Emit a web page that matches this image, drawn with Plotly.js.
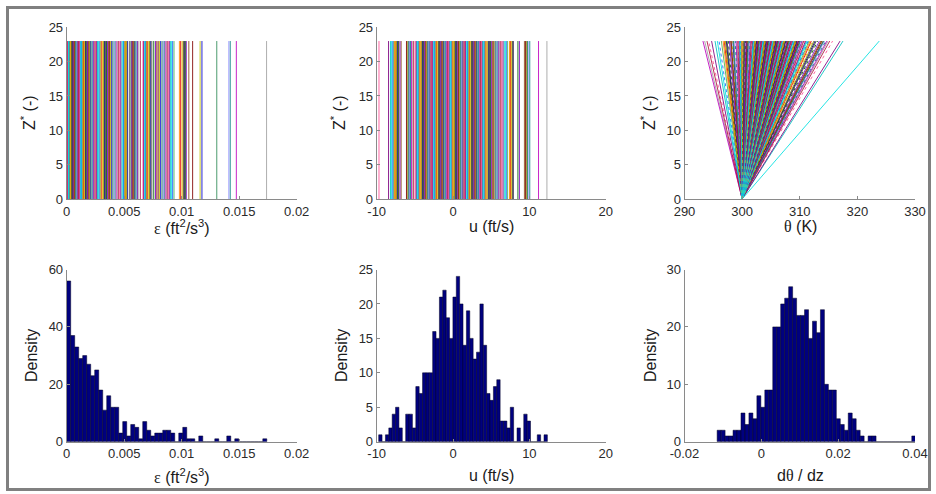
<!DOCTYPE html>
<html><head><meta charset="utf-8">
<script src="https://cdn.plot.ly/plotly-3.0.1.min.js"></script>
<style>html,body{margin:0;padding:0;background:#fff}#chart{width:936px;height:494px}</style>
</head><body><div id="chart"></div>
<script>
// ---------- DATA ----------
// Top-left: epsilon of each profile (vertical line from Z*=0 to Z*=23)
const epsLines = [0.00002,0.00005,0.00009,0.00012,0.00016,0.00019,0.00023,0.00027,0.00031,0.00034,0.00038,0.00043,0.00047,0.00052,0.00056,0.00061,0.00065,0.00070,0.00074,0.00079,0.00083,0.00088,0.00093,0.00098,0.00103,0.00108,0.00113,0.00119,0.00124,0.00129,0.00135,0.00140,0.00146,0.00152,0.00157,0.00163,0.00169,0.00175,0.00181,0.00187,0.00193,0.00200,0.00206,0.00212,0.00219,0.00226,0.00232,0.00239,0.00246,0.00253,0.00260,0.00267,0.00275,0.00282,0.00290,0.00297,0.00305,0.00313,0.00321,0.00329,0.00338,0.00346,0.00355,0.00364,0.00373,0.00382,0.00391,0.00401,0.00410,0.00420,0.00430,0.00440,0.00449,
0.00458,0.00470,0.00481,0.00489,0.00494,0.00499,0.00505,0.00510,0.00514,0.00519,0.00530,0.00548,0.00560,0.00566,0.00572,0.00578,0.00584,0.00590,0.00596,0.00603,0.00610,0.00616,0.00622,0.00640,0.00663,0.00668,0.00673,0.00679,0.00684,0.00689,0.00694,0.00701,0.00710,0.00719,0.00727,0.00740,0.00757,0.00772,0.00783,0.00795,0.00806,0.00817,0.00829,0.00838,0.00847,0.00856,0.00866,0.00874,0.00883,0.00892,0.00901,0.00910,0.00921,0.00933,0.00980,0.00991,0.01003,0.01012,0.01018,0.01025,0.01032,0.01040,0.01062,0.01095,0.01160,0.01176,0.01305,0.01410,0.01422,0.01475,0.01738];

// Top-middle: u of each profile
const uLines = [-9.70,-8.45,-8.20,-8.05,-7.90,-7.78,-7.66,-7.56,-7.50,-7.40,-7.30,-7.20,-7.12,-6.95,-6.80,-6.10,-6.00,-5.90,-5.80,-5.70,-5.58,-5.46,-5.36,-5.20,-4.98,
-4.85,-4.76,-4.66,-4.57,-4.49,-4.40,-4.31,-4.22,-4.12,-4.03,-3.94,-3.85,-3.76,-3.67,-3.58,-3.49,-3.40,-3.31,-3.22,-3.13,-3.04,-2.95,-2.86,-2.77,-2.68,-2.60,-2.51,-2.42,-2.33,-2.24,-2.15,-2.06,-1.97,-1.88,-1.79,-1.70,-1.61,-1.52,-1.43,-1.34,-1.25,-1.16,-1.07,-0.98,-0.89,-0.80,-0.71,-0.62,-0.53,-0.44,-0.35,-0.26,-0.17,-0.08,0.01,0.10,0.19,0.28,0.37,0.46,0.55,0.64,0.73,0.82,0.91,1.00,1.09,1.18,1.27,1.36,1.45,1.54,1.63,1.72,1.81,1.90,1.99,2.08,2.17,2.26,2.35,2.44,2.53,2.62,2.71,2.80,2.89,2.98,3.07,3.16,3.25,3.34,3.43,3.52,3.61,3.70,3.79,3.88,3.97,4.06,4.15,4.24,4.33,4.44,4.55,4.66,4.78,4.90,5.02,5.14,5.26,5.38,5.50,5.62,5.74,5.86,5.98,6.10,
6.25,6.40,6.55,6.70,6.85,6.98,7.15,7.40,7.52,7.62,7.72,7.82,7.90,8.50,8.70,9.35,9.50,9.60,9.68,9.75,9.85,10.05,11.20,12.30];

// Top-right: theta at the top (Z*=23) of each linear profile starting at 300 K
const thetaBase = 300;
const zTop = 23;
const thetaTopLines = [293.2,293.5,293.9,294.2,294.7,295.3,295.7,296.0,296.4,296.7,296.9,297.0,297.1,297.25,297.4,297.6,297.8,298.0,298.1,298.25,298.4,298.5,298.6,298.8,298.95,299.1,299.25,
299.35,299.45,299.55,299.62,299.7,299.78,299.86,300.0,300.1,300.2,300.3,300.45,300.6,300.68,300.76,300.84,300.92,301.0,301.08,301.2,301.3,301.4,301.5,301.6,301.7,
301.82,301.88,301.95,302.02,302.09,302.16,302.23,302.30,302.37,302.44,302.51,302.58,302.65,302.72,302.79,302.86,302.93,303.00,303.07,303.14,303.21,303.28,303.35,303.42,303.49,303.56,303.63,303.70,303.77,303.84,303.91,303.98,304.05,304.12,304.19,304.26,304.33,304.40,304.47,304.54,304.61,304.68,304.75,304.82,304.89,304.96,305.03,305.10,305.17,305.24,305.31,305.38,305.45,305.52,305.59,305.66,305.73,305.80,305.87,305.94,306.01,306.08,306.15,306.22,306.29,306.36,306.43,306.50,306.57,306.64,306.71,306.78,306.85,306.92,306.99,307.06,307.13,307.20,307.27,307.34,307.41,307.50,307.60,307.70,307.80,307.90,308.00,308.07,308.14,308.21,308.28,308.35,308.42,308.49,308.56,308.65,308.74,308.83,308.92,309.01,309.10,309.19,309.26,309.33,309.40,309.47,309.54,309.61,309.68,309.75,309.82,
309.9,310.0,310.1,310.2,310.3,310.4,310.55,310.7,310.85,311.0,311.15,311.3,311.45,311.6,311.8,312.0,312.2,312.45,312.65,312.85,313.1,313.4,313.65,313.8,313.95,314.05,314.15,314.3,314.5,314.7,314.9,315.2,315.7,317.0,317.5,323.8];

// Bottom row: histogram counts (50 bins each)
const epsCounts = [56,37,33,29,30,27,23,25,18,11,16,12,12,3,7,2,6,5,1,7,4,2,3,3,4,4,3,0,3,5,1,1,0,2,0,0,0,1,0,0,2,0,1,0,0,0,0,0,0,1];
const epsBinStart = 0, epsBinWidth = 0.000348;
const uCounts = [1,0,1,2,4,5,2,0,4,4,2,8,7,10,10,10,16,15,21,22,18,15,21,24,20,14,19,15,12,13,20,14,7,6,8,9,3,3,2,5,0,2,0,4,3,0,0,1,0,1];
const uBinStart = -9.74, uBinWidth = 0.442;
const gradCounts = [2,2,1,1,2,2,5,3,5,4,8,6,9,9,20,20,24,25,27,25,22,22,23,18,21,19,23,10,9,9,4,3,2,5,4,2,1,0,1,1,0,0,0,0,0,0,0,0,0,1];
const gradBinStart = -0.0115, gradBinWidth = 0.001034;

// Tick values / labels
const epsTicks = [0,0.005,0.01,0.015,0.02], epsTickText = ['0','0.005','0.01','0.015','0.02'];
const uTicks = [-10,0,10,20], uTickText = ['-10','0','10','20'];
const thetaTicks = [290,300,310,320,330], thetaTickText = ['290','300','310','320','330'];
const gradTicks = [-0.02,0,0.02,0.04], gradTickText = ['-0.02','0','0.02','0.04'];
const zTicks = [0,5,10,15,20,25];
const dens1Ticks = [0,20,40,60], dens2Ticks = [0,5,10,15,20,25], dens3Ticks = [0,10,20,30];

// ---------- STYLE ----------
const lineColors = ['#a0a0a0','#0000cc','#006400','#e00000','#00bfbf','#bf00bf','#bfbf00','#404040','#ff8000',
  '#7f007f','#007f7f','#7f0000','#00007f','#4db34d','#ff4d94','#8c8cff','#8b4513',
  '#808000','#1e60ff','#b0103c','#2e8b57','#8000c0','#e6c200','#00e0e0'];
const tickFont = {family:'Arial, "Liberation Sans", sans-serif', size:13, color:'#2a2a2a'};
const titleFont = {family:'Arial, "Liberation Sans", sans-serif', size:16, color:'#1a1a1a'};
const serif = (s) => '<span style="font-family:\'Liberation Serif\',serif">' + s + '</span>';

// colour of a line counted from the last (largest) one; lastColor = palette index of that line
function lineGroups(values, xa, ya, fromBase, dashed, lastColor) {
  const n = lineColors.length, N = values.length;
  const groups = lineColors.map(() => ({x: [], y: []}));
  values.forEach((v, i) => {
    const g = groups[(lastColor + (N - 1 - i) * 5) % n];
    g.x.push(fromBase ? thetaBase : v, v, null);
    g.y.push(0, zTop, null);
  });
  return groups.map((g, j) => ({
    type: 'scatter', mode: 'lines', x: g.x, y: g.y, xaxis: xa, yaxis: ya, opacity: 0.85,
    line: {color: lineColors[j], width: 1, dash: (dashed && j % 4 === 2) ? 'dot' : 'solid'},
    hoverinfo: 'skip', showlegend: false
  }));
}
function hist(counts, start, width, xa, ya) {
  return {type: 'bar', x0: start + width / 2, dx: width, y: counts, width: width,
    xaxis: xa, yaxis: ya, marker: {color: '#00007f', line: {color: '#000020', width: 0.5}},
    hoverinfo: 'skip', showlegend: false};
}
const traces = [].concat(
  lineGroups(epsLines, 'x', 'y', false, false, 0),
  lineGroups(uLines, 'x2', 'y2', false, false, 0),
  lineGroups(thetaTopLines, 'x3', 'y3', true, true, 23),
  [hist(epsCounts, epsBinStart, epsBinWidth, 'x4', 'y4'),
   hist(uCounts, uBinStart, uBinWidth, 'x5', 'y5'),
   hist(gradCounts, gradBinStart, gradBinWidth, 'x6', 'y6')]
);

const W = 936, H = 494;
const px = (a, b) => [a / W, b / W];
const py = (top, bottom) => [1 - bottom / H, 1 - top / H];
const cols = [px(66.7, 296.7), px(376.7, 605.7), px(684.5, 915)];
const rows = [py(27.3, 199), py(269.5, 441.7)];
function axis(domain, range, tv, tt, anchor) {
  const a = {domain, range, tickvals: tv, showline: true, linecolor: '#8a8a8a', linewidth: 1,
    ticks: 'inside', ticklen: 3, tickcolor: '#8a8a8a', tickwidth: 1, showgrid: false, zeroline: false,
    tickfont: tickFont, fixedrange: true, anchor};
  if (tt) a.ticktext = tt;
  return a;
}
const layout = {
  width: W, height: H, margin: {l: 0, r: 0, t: 0, b: 0}, showlegend: false,
  paper_bgcolor: '#fff', plot_bgcolor: 'rgba(0,0,0,0)', bargap: 0,
  xaxis: axis(cols[0], [0, 0.02], epsTicks, epsTickText, 'y'),
  yaxis: axis(rows[0], [0, 25], zTicks, null, 'x'),
  xaxis2: axis(cols[1], [-10, 20], uTicks, uTickText, 'y2'),
  yaxis2: axis(rows[0], [0, 25], zTicks, null, 'x2'),
  xaxis3: axis(cols[2], [290, 330], thetaTicks, thetaTickText, 'y3'),
  yaxis3: axis(rows[0], [0, 25], zTicks, null, 'x3'),
  xaxis4: axis(cols[0], [0, 0.02], epsTicks, epsTickText, 'y4'),
  yaxis4: axis(rows[1], [0, 60], dens1Ticks, null, 'x4'),
  xaxis5: axis(cols[1], [-10, 20], uTicks, uTickText, 'y5'),
  yaxis5: axis(rows[1], [0, 25], dens2Ticks, null, 'x5'),
  xaxis6: axis(cols[2], [-0.02, 0.04], gradTicks, gradTickText, 'y6'),
  yaxis6: axis(rows[1], [0, 30], dens3Ticks, null, 'x6'),
  shapes: [{type: 'rect', xref: 'paper', yref: 'paper', x0: 7.5 / W, x1: 929.5 / W, y0: 1 - 489.5 / H, y1: 1 - 7.5 / H,
    line: {color: '#808080', width: 3}, fillcolor: 'rgba(0,0,0,0)', layer: 'below'}],
  annotations: []
};
const ann = (text, x, y, angle) => ({text, x: x / W, y: 1 - y / H, xref: 'paper', yref: 'paper',
  xanchor: 'center', yanchor: 'middle', showarrow: false, font: titleFont, textangle: angle || 0});
layout.annotations.push(
  ann(serif('ε') + ' (ft<sup>2</sup>/s<sup>3</sup>)', 181.7, 227),
  ann('u (ft/s)', 491, 226),
  ann(serif('θ') + ' (K)', 800, 226),
  ann(serif('ε') + ' (ft<sup>2</sup>/s<sup>3</sup>)', 181.7, 476),
  ann('u (ft/s)', 491, 475),
  ann('d' + serif('θ') + ' / dz', 800, 475),
  ann('Z<sup>*</sup> (-)', 28, 113, -90),
  ann('Z<sup>*</sup> (-)', 338, 113, -90),
  ann('Z<sup>*</sup> (-)', 648, 113, -90),
  ann('Density', 31, 356, -90),
  ann('Density', 341, 356, -90),
  ann('Density', 650, 356, -90)
);
Plotly.newPlot('chart', traces, layout, {staticPlot: true, displayModeBar: false});
</script></body></html>
